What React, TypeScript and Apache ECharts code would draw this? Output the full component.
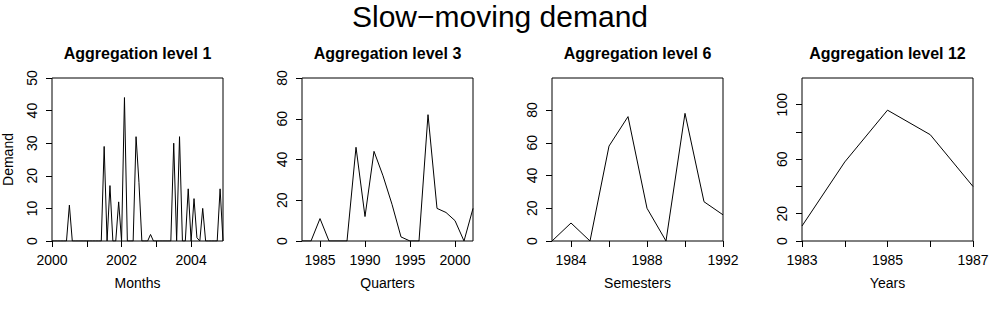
import React, { useEffect, useRef } from "react";
import * as echarts from "echarts";

// ---- Data ----
const monthlyStart = 2000;
const monthlyFreq = 12;
const monthlyDemand = [
  0, 0, 0, 0, 0, 0, 11, 0, 0, 0, 0, 0,
  0, 0, 0, 0, 0, 0, 29, 0, 17, 0, 0, 12,
  0, 44, 0, 0, 0, 32, 18, 0, 0, 0, 2, 0,
  0, 0, 0, 0, 0, 0, 30, 0, 32, 0, 0, 16,
  0, 13, 1, 0, 10, 0, 0, 0, 0, 0, 16, 0,
];

const quarterlyStart = 1983;
const quarterlyDemand = [0, 0, 11, 0, 0, 0, 46, 12, 44, 32, 18, 2, 0, 0, 62, 16, 14, 10, 0, 16];

const semesterStart = 1983;
const semesterDemand = [0, 11, 0, 58, 76, 20, 0, 78, 24, 16];

const yearlyStart = 1983;
const yearlyDemand = [11, 58, 96, 78, 40];

const panelTitles = ["Aggregation level 1", "Aggregation level 3", "Aggregation level 6", "Aggregation level 12"];
const xAxisNames = ["Months", "Quarters", "Semesters", "Years"];
const mainTitle = "Slow\u2212moving demand";

const xTicks = [
  [2000, 2001, 2002, 2003, 2004],
  [1985, 1990, 1995, 2000],
  [1984, 1986, 1988, 1990, 1992],
  [1983, 1984, 1985, 1986, 1987],
];
const xLabels = [
  [2000, 2002, 2004],
  [1985, 1990, 1995, 2000],
  [1984, 1988, 1992],
  [1983, 1985, 1987],
];
const yTicks = [
  [0, 10, 20, 30, 40, 50],
  [0, 20, 40, 60, 80],
  [0, 20, 40, 60, 80],
  [0, 20, 40, 60, 80, 100],
];
const yLabels = [
  [0, 10, 20, 30, 40, 50],
  [0, 20, 40, 60, 80],
  [0, 20, 40, 60, 80],
  [0, 20, 60, 100],
];
const yMax = [50, 80, 99.6, 119.6];

// ---- Build ----
const FONT = '"Liberation Sans", Arial, Helvetica, sans-serif';

function toPairs(start: number, freq: number, vals: number[]) {
  return vals.map((v, i) => [start + i / freq, v]);
}

const seriesData = [
  toPairs(monthlyStart, monthlyFreq, monthlyDemand),
  toPairs(quarterlyStart, 1, quarterlyDemand),
  toPairs(semesterStart, 1, semesterDemand),
  toPairs(yearlyStart, 1, yearlyDemand),
];

const gridLefts = [52, 302, 552, 802];
const gridTop = 78;
const gridW = 171;
const gridH = 163;

function buildOption() {
  const grid = gridLefts.map((l) => ({
    left: l,
    top: gridTop,
    width: gridW,
    height: gridH,
    show: true,
    borderColor: "#000",
    borderWidth: 1,
    backgroundColor: "transparent",
    containLabel: false,
  }));

  const xAxis = seriesData.map((d, k) => ({
    type: "value",
    gridIndex: k,
    min: d[0][0],
    max: d[d.length - 1][0],
    name: xAxisNames[k],
    nameLocation: "middle",
    nameGap: 35,
    nameTextStyle: { fontFamily: FONT, fontSize: 14, color: "#000" },
    axisLine: { show: false },
    splitLine: { show: false },
    axisTick: {
      show: true,
      inside: false,
      length: 6,
      lineStyle: { color: "#000", width: 1 },
      customValues: xTicks[k],
    },
    axisLabel: {
      show: true,
      margin: 12,
      fontFamily: FONT,
      fontSize: 14,
      color: "#000",
      customValues: xLabels[k],
      formatter: (v: number) => String(Math.round(v)),
    },
  }));

  const yAxis = seriesData.map((_d, k) => ({
    type: "value",
    gridIndex: k,
    min: 0,
    max: yMax[k],
    name: k === 0 ? "Demand" : "",
    nameLocation: "middle",
    nameGap: 37,
    nameTextStyle: { fontFamily: FONT, fontSize: 14, color: "#000" },
    axisLine: { show: false },
    splitLine: { show: false },
    axisTick: {
      show: true,
      inside: false,
      length: 6,
      lineStyle: { color: "#000", width: 1 },
      customValues: yTicks[k],
    },
    axisLabel: {
      show: true,
      rotate: 90,
      margin: 13,
      fontFamily: FONT,
      fontSize: 14,
      color: "#000",
      customValues: yLabels[k],
      formatter: (v: number) => String(Math.round(v)),
    },
  }));

  const series = seriesData.map((d, k) => ({
    type: "line",
    xAxisIndex: k,
    yAxisIndex: k,
    data: d,
    symbol: "none",
    showSymbol: false,
    lineStyle: { color: "#000", width: 1 },
    itemStyle: { color: "#000" },
    clip: true,
  }));

  const graphic: any[] = [
    {
      type: "text",
      x: 500,
      y: 16,
      style: {
        text: mainTitle,
        fontFamily: FONT,
        fontSize: 30,
        fill: "#000",
        textAlign: "center",
        textVerticalAlign: "middle",
        verticalAlign: "middle",
      },
    },
  ];
  panelTitles.forEach((t, k) => {
    graphic.push({
      type: "text",
      x: gridLefts[k] + gridW / 2,
      y: 53,
      style: {
        text: t,
        fontFamily: FONT,
        fontSize: 16,
        fontWeight: "bold",
        fill: "#000",
        textAlign: "center",
        textVerticalAlign: "middle",
        verticalAlign: "middle",
      },
    });
  });

  return {
    animation: false,
    backgroundColor: "#fff",
    textStyle: { fontFamily: FONT },
    grid,
    xAxis,
    yAxis,
    series,
    graphic,
  };
}

export default function App() {
  const ref = useRef<HTMLDivElement>(null);
  useEffect(() => {
    if (!ref.current) return;
    const chart = echarts.init(ref.current, null, { renderer: "svg" });
    chart.setOption(buildOption() as any);
    return () => chart.dispose();
  }, []);
  return (
    <div
      ref={ref}
      style={{ position: "absolute", left: 0, top: 0, width: 1000, height: 331, background: "#fff" }}
    />
  );
}
